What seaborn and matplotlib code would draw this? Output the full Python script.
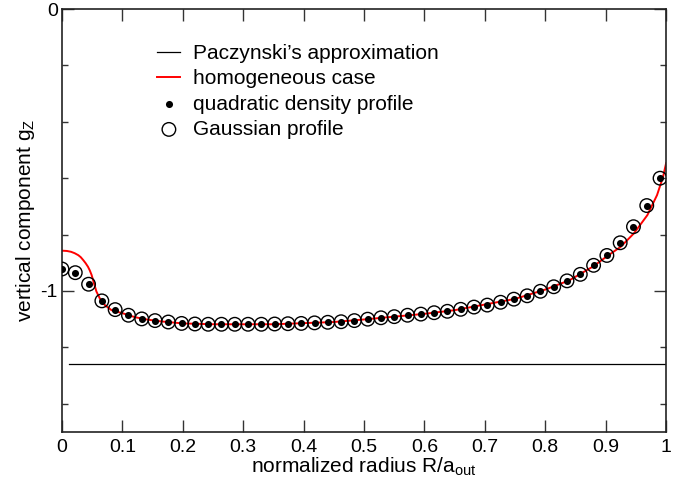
import matplotlib
matplotlib.use('Agg')
import matplotlib.pyplot as plt
from matplotlib.ticker import MultipleLocator
import seaborn as sns

# sample radii of the discrete profiles
radius = [0.000, 0.022, 0.044, 0.066, 0.088, 0.110, 0.132, 0.154, 0.176, 0.198,
          0.220, 0.242, 0.264, 0.286, 0.308, 0.330, 0.352, 0.374, 0.396, 0.418,
          0.440, 0.462, 0.484, 0.506, 0.528, 0.550, 0.572, 0.594, 0.616, 0.638,
          0.660, 0.682, 0.704, 0.726, 0.748, 0.770, 0.792, 0.814, 0.836, 0.858,
          0.880, 0.902, 0.924, 0.946, 0.968, 0.990]

quadratic = [-0.922, -0.935, -0.976, -1.035, -1.066, -1.086, -1.099, -1.105, -1.110, -1.115,
             -1.117, -1.118, -1.118, -1.118, -1.118, -1.118, -1.117, -1.116, -1.115, -1.113,
             -1.111, -1.109, -1.105, -1.100, -1.095, -1.091, -1.086, -1.082, -1.077, -1.072,
             -1.065, -1.057, -1.050, -1.040, -1.029, -1.017, -1.001, -0.985, -0.964, -0.941,
             -0.909, -0.874, -0.829, -0.772, -0.697, -0.600]

gaussian = [-0.922, -0.935, -0.976, -1.035, -1.066, -1.086, -1.099, -1.105, -1.110, -1.115,
            -1.117, -1.118, -1.118, -1.118, -1.118, -1.118, -1.117, -1.116, -1.115, -1.113,
            -1.111, -1.109, -1.105, -1.100, -1.095, -1.091, -1.086, -1.082, -1.077, -1.072,
            -1.065, -1.057, -1.050, -1.040, -1.029, -1.017, -1.001, -0.985, -0.964, -0.941,
            -0.909, -0.874, -0.829, -0.772, -0.697, -0.600]

# homogeneous case (continuous curve)
homog_r = [0.000, 0.008, 0.015, 0.021, 0.027, 0.031, 0.035, 0.039, 0.043, 0.046,
           0.049, 0.053, 0.057, 0.0625, 0.071, 0.082, 0.099, 0.121, 0.143, 0.165,
           0.200, 0.250, 0.300, 0.350, 0.400, 0.450, 0.500, 0.550, 0.600, 0.650,
           0.700, 0.750, 0.800, 0.840, 0.880, 0.902, 0.925, 0.947, 0.969, 0.985,
           0.995, 1.000]
homog_g = [-0.857, -0.858, -0.861, -0.866, -0.873, -0.880, -0.890, -0.901, -0.914, -0.927,
           -0.943, -0.973, -1.002, -1.026, -1.050, -1.068, -1.078, -1.093, -1.102, -1.108,
           -1.115, -1.118, -1.118, -1.118, -1.114, -1.110, -1.101, -1.091, -1.081, -1.068,
           -1.048, -1.028, -0.995, -0.962, -0.912, -0.877, -0.843, -0.795, -0.731, -0.660,
           -0.595, -0.547]

# Paczynski's approximation (constant)
pac_r = [0.012, 1.0]
pac_g = [-1.258, -1.258]

plt.rcParams['font.family'] = ['Liberation Sans', 'DejaVu Sans']
plt.rcParams['mathtext.fontset'] = 'custom'
plt.rcParams['mathtext.rm'] = 'Liberation Sans'
plt.rcParams['mathtext.it'] = 'Liberation Sans:italic'
plt.rcParams['axes.unicode_minus'] = False

fig = plt.figure(figsize=(6.95, 4.9), dpi=100)
ax = fig.add_axes([0.0892, 0.1184, 0.8692, 0.8632])

sns.lineplot(x=pac_r, y=pac_g, color='black', linewidth=0.9, ax=ax,
             label="Paczynski’s approximation")
sns.lineplot(x=homog_r, y=homog_g, color='#ff0000', linewidth=1.4, ax=ax,
             label='homogeneous case', sort=False)
sns.scatterplot(x=radius, y=quadratic, color='black', s=26, linewidth=0, ax=ax,
                label='quadratic density profile', zorder=4)
sns.scatterplot(x=radius, y=gaussian, facecolor='none', edgecolor='black', s=95,
                linewidth=1.0, ax=ax, label='Gaussian profile', zorder=3)

ax.set_xlim(0, 1)
ax.set_ylim(-1.5, 0)
ax.xaxis.set_major_locator(MultipleLocator(0.1))
ax.xaxis.set_major_formatter(lambda v, p: f'{v:.1f}' if 0.01 < v < 0.99 else f'{v:.0f}')
ax.yaxis.set_major_locator(MultipleLocator(1))
ax.yaxis.set_major_formatter('{x:.0f}')
ax.yaxis.set_minor_locator(MultipleLocator(0.2))

ax.tick_params(which='both', direction='in', top=True, right=True, labelsize=14,
               width=1.0, color='#333333')
ax.tick_params(which='major', length=8.4)
ax.tick_params(which='minor', length=4.3)
ax.tick_params(axis='x', pad=5)
ax.tick_params(axis='y', pad=3)
for sp in ax.spines.values():
    sp.set_linewidth(1.2)
    sp.set_color('#222222')

ax.set_xlabel('normalized radius R/a$_\\mathrm{out}$', fontsize=15, labelpad=0)
ax.set_ylabel('vertical component g$_\\mathrm{Z}$', fontsize=15)
ax.yaxis.set_label_coords(-0.041, 0.5)

ax.legend(loc='upper left', bbox_to_anchor=(0.158, 0.917), frameon=False, fontsize=15,
          handlelength=1.1, handletextpad=0.6, labelspacing=0.3, borderpad=0,
          borderaxespad=0)

fig.savefig('out.png', dpi=100)
